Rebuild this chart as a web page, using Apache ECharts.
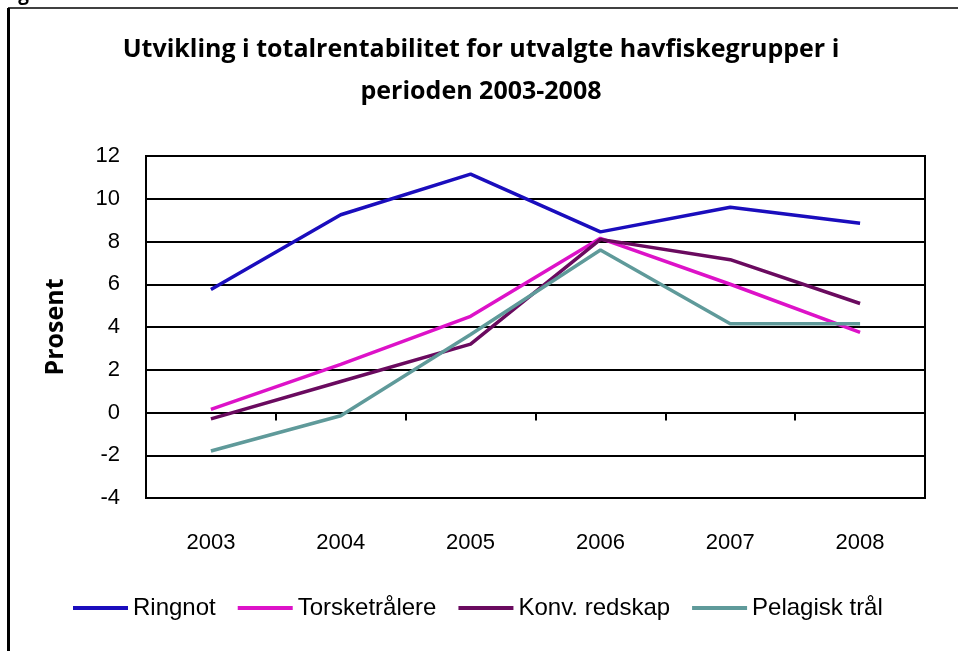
<!DOCTYPE html>
<html>
<head>
<meta charset="utf-8">
<script src="https://cdn.jsdelivr.net/npm/echarts@6/dist/echarts.min.js"></script>
<style>
  html,body{margin:0;padding:0;background:#fff;}
  #chart{width:958px;height:651px;}
</style>
</head>
<body>
<div id="chart"></div>
<script>
// år og verdier (prosent), lest av figuren
const years = ['2003', '2004', '2005', '2006', '2007', '2008']
const ringnot = [5.75, 9.25, 11.15, 8.45, 9.6, 8.85]
const torsketralere = [0.15, 2.25, 4.5, 8.15, 6.0, 3.75]
const konvRedskap = [-0.3, 1.45, 3.2, 8.1, 7.15, 5.1]
const pelagiskTral = [-1.8, -0.15, 3.65, 7.6, 4.15, 4.15]
const yTicks = [-4, -2, 0, 2, 4, 6, 8, 10, 12]

const chart = echarts.init(document.getElementById('chart'))

const font = 'Liberation Sans, Arial, sans-serif'
const mkLine = (name, data, color) => ({
  name: name,
  type: 'line',
  data: data,
  symbol: 'none',
  xAxisIndex: 0,
  lineStyle: { color: color, width: 3.5 },
  itemStyle: { color: color }
})

chart.setOption({
  animation: false,
  title: {
    text: 'Utvikling i totalrentabilitet for utvalgte havfiskegrupper i\nperioden 2003-2008',
    left: 476,
    textAlign: 'center',
    top: 24,
    textStyle: {
      fontFamily: 'Open Sans, sans-serif',
      fontWeight: 'bold',
      fontSize: 25,
      lineHeight: 42,
      color: '#000'
    }
  },
  graphic: [
    // ramme rundt figuren
    { type: 'line', shape: { x1: 8, y1: 8, x2: 958, y2: 8 }, style: { stroke: '#000', lineWidth: 1.5 } },
    { type: 'line', shape: { x1: 8.5, y1: 8, x2: 8.5, y2: 651 }, style: { stroke: '#000', lineWidth: 3 } },
    { type: 'text', left: 2, top: -15, style: { text: 'Figur', font: 'bold 19px Open Sans, sans-serif', fill: '#000' } }
  ],
  legend: {
    top: 591,
    left: 68,
    itemWidth: 55,
    itemHeight: 4,
    itemGap: 22,
    icon: 'rect',
    textStyle: { fontFamily: font, fontSize: 24, color: '#000' },
    data: ['Ringnot', 'Torsketrålere', 'Konv. redskap', 'Pelagisk trål']
  },
  grid: {
    left: 146,
    right: 33,
    top: 156,
    bottom: 153,
    show: true,
    borderColor: '#000',
    borderWidth: 2
  },
  xAxis: [
    {
      // akselinje ved null med tikkmerker
      type: 'category',
      data: years,
      boundaryGap: true,
      axisLine: { onZero: true, lineStyle: { color: '#000', width: 2 } },
      axisTick: { show: true, length: 8, lineStyle: { color: '#000', width: 2 } },
      axisLabel: { show: false }
    },
    {
      // etiketter nederst
      type: 'category',
      data: years,
      position: 'bottom',
      axisLine: { show: false },
      axisTick: { show: false },
      axisLabel: { margin: 34, fontFamily: font, fontSize: 22, color: '#000' }
    }
  ],
  yAxis: {
    type: 'value',
    min: yTicks[0],
    max: yTicks[yTicks.length - 1],
    interval: 2,
    name: 'Prosent',
    nameLocation: 'middle',
    nameRotate: 90,
    nameGap: 78,
    nameTextStyle: { fontFamily: 'Open Sans, sans-serif', fontWeight: 'bold', fontSize: 25, color: '#000' },
    axisLine: { show: true, lineStyle: { color: '#000', width: 2 } },
    axisTick: { show: false },
    axisLabel: { margin: 26, fontFamily: font, fontSize: 22, color: '#000' },
    splitLine: { lineStyle: { color: '#000', width: 2 } }
  },
  series: [
    mkLine('Ringnot', ringnot, '#1a0dbd'),
    mkLine('Torsketrålere', torsketralere, '#dd12c8'),
    mkLine('Konv. redskap', konvRedskap, '#6a0a5f'),
    mkLine('Pelagisk trål', pelagiskTral, '#5f9a9a')
  ]
})
</script>
</body>
</html>
